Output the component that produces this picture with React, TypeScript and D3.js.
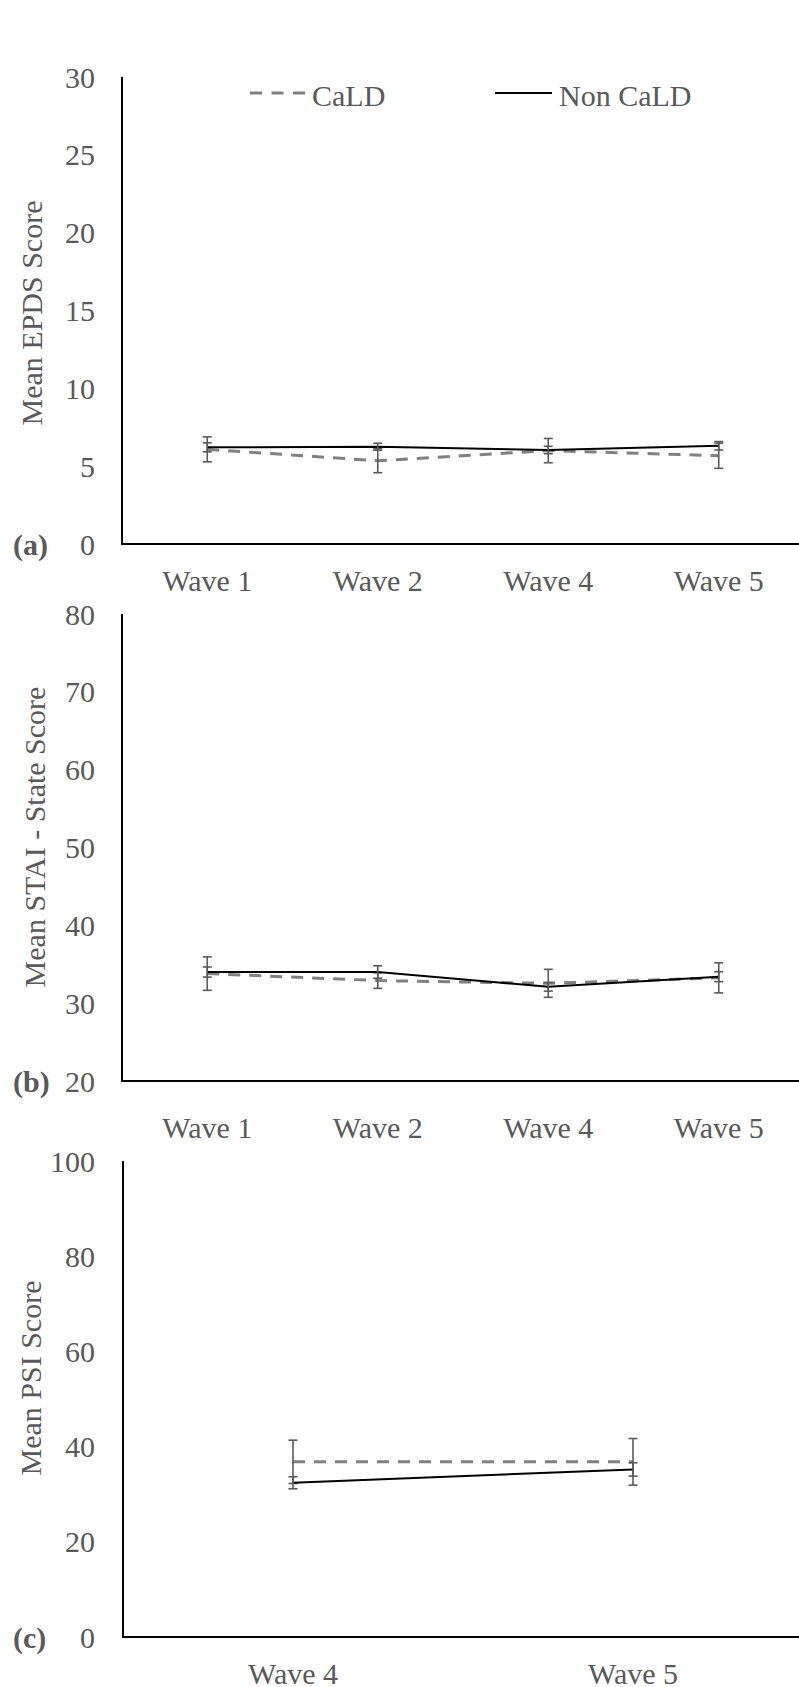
import React, { useEffect, useRef } from 'react';
import * as d3 from 'd3';

// categories
const waves = ['Wave 1', 'Wave 2', 'Wave 4', 'Wave 5'];
const psiWaves = ['Wave 4', 'Wave 5'];

// (a) EPDS
const epdsCald = [6.08, 5.35, 6.0, 5.67];
const epdsCaldErr = [0.8, 0.77, 0.78, 0.81];
const epdsNon = [6.21, 6.25, 6.04, 6.31];
const epdsNonErr = [0.29, 0.22, 0.24, 0.27];
const epdsTicks = [0, 5, 10, 15, 20, 25, 30];

// (b) STAI - State
const staiCald = [33.8, 32.9, 32.55, 33.25];
const staiCaldErr = [2.15, 1.0, 1.8, 1.93];
const staiNon = [34.0, 34.0, 32.1, 33.4];
const staiNonErr = [0.65, 0.8, 0.55, 0.64];
const staiTicks = [20, 30, 40, 50, 60, 70, 80];

// (c) PSI
const psiCald = [36.8, 36.8];
const psiCaldErr = [4.55, 4.9];
const psiNon = [32.4, 35.2];
const psiNonErr = [1.26, 1.4];
const psiTicks = [0, 20, 40, 60, 80, 100];

const FONT = '"Liberation Serif", "Times New Roman", serif';
const GREY_TEXT = '#595959';

const App = () => {
    const svgRef = useRef<SVGSVGElement>(null);

    useEffect(() => {
        const svg = d3.select(svgRef.current);
        svg.selectAll('*').remove();

        const panels = [
            {
                cats: waves, cald: epdsCald, caldErr: epdsCaldErr, non: epdsNon, nonErr: epdsNonErr,
                ticks: epdsTicks, top: 77, bottom: 544, left: 122, right: 804,
                title: 'Mean EPDS Score', titleX: 42, titleY: 313, tag: '(a)', labelY: 580
            },
            {
                cats: waves, cald: staiCald, caldErr: staiCaldErr, non: staiNon, nonErr: staiNonErr,
                ticks: staiTicks, top: 614, bottom: 1081, left: 122, right: 804,
                title: 'Mean STAI - State Score', titleX: 45, titleY: 837, tag: '(b)', labelY: 1127
            },
            {
                cats: psiWaves, cald: psiCald, caldErr: psiCaldErr, non: psiNon, nonErr: psiNonErr,
                ticks: psiTicks, top: 1161, bottom: 1637, left: 123, right: 803,
                title: 'Mean PSI Score', titleX: 41, titleY: 1378, tag: '(c)', labelY: 1673
            }
        ];

        panels.forEach(p => {
            const g = svg.append('g');

            const x = d3.scaleBand()
                .domain(p.cats)
                .range([p.left, p.right])
                .padding(0);
            const cx = (d: string) => (x(d) as number) + x.bandwidth() / 2;

            const y = d3.scaleLinear()
                .domain([p.ticks[0], p.ticks[p.ticks.length - 1]])
                .range([p.bottom, p.top]);

            // tick labels
            g.selectAll('.ytick')
                .data(p.ticks)
                .enter()
                .append('text')
                .attr('x', 95)
                .attr('y', d => y(d))
                .attr('dy', '0.35em')
                .attr('text-anchor', 'end')
                .style('font-family', FONT)
                .style('font-size', '30px')
                .style('fill', GREY_TEXT)
                .text(d => d);

            // axes lines
            g.append('line')
                .attr('x1', p.left).attr('x2', p.left)
                .attr('y1', p.top).attr('y2', p.bottom)
                .attr('stroke', 'black').attr('stroke-width', 2);
            g.append('line')
                .attr('x1', p.left - 1).attr('x2', 799)
                .attr('y1', p.bottom).attr('y2', p.bottom)
                .attr('stroke', 'black').attr('stroke-width', 2);

            // category labels
            g.selectAll('.xlab')
                .data(p.cats)
                .enter()
                .append('text')
                .attr('x', d => cx(d))
                .attr('y', p.labelY)
                .attr('dy', '0.35em')
                .attr('text-anchor', 'middle')
                .style('font-family', FONT)
                .style('font-size', '30px')
                .style('fill', GREY_TEXT)
                .text(d => d);

            // y title
            g.append('text')
                .attr('transform', `translate(${p.titleX},${p.titleY}) rotate(-90)`)
                .attr('text-anchor', 'middle')
                .style('font-family', FONT)
                .style('font-size', '30px')
                .style('fill', GREY_TEXT)
                .text(p.title);

            // panel tag
            g.append('text')
                .attr('x', 13)
                .attr('y', p.bottom)
                .attr('dy', '0.35em')
                .style('font-family', FONT)
                .style('font-size', '30px')
                .style('font-weight', 'bold')
                .style('fill', GREY_TEXT)
                .text(p.tag);

            const line = d3.line<number>()
                .x((d, i) => cx(p.cats[i]))
                .y(d => y(d));

            const drawErr = (vals: number[], errs: number[]) => {
                vals.forEach((v, i) => {
                    const xx = cx(p.cats[i]);
                    const eg = g.append('g')
                        .attr('stroke', '#595959')
                        .attr('stroke-width', 1.6);
                    eg.append('line')
                        .attr('x1', xx).attr('x2', xx)
                        .attr('y1', y(v - errs[i])).attr('y2', y(v + errs[i]));
                    [v - errs[i], v + errs[i]].forEach(e => {
                        eg.append('line')
                            .attr('x1', xx - 4.5).attr('x2', xx + 4.5)
                            .attr('y1', y(e)).attr('y2', y(e));
                    });
                });
            };

            // CaLD series (dashed grey)
            g.append('path')
                .datum(p.cald)
                .attr('d', line)
                .attr('fill', 'none')
                .attr('stroke', '#808080')
                .attr('stroke-width', 3)
                .attr('stroke-dasharray', '12,9');
            drawErr(p.cald, p.caldErr);

            // Non CaLD series (solid black)
            g.append('path')
                .datum(p.non)
                .attr('d', line)
                .attr('fill', 'none')
                .attr('stroke', 'black')
                .attr('stroke-width', 2);
            drawErr(p.non, p.nonErr);
        });

        // Legend
        const legend = svg.append('g');
        legend.append('line')
            .attr('x1', 250).attr('x2', 305)
            .attr('y1', 93).attr('y2', 93)
            .attr('stroke', '#808080')
            .attr('stroke-width', 3)
            .attr('stroke-dasharray', '12,9.5');
        legend.append('text')
            .attr('x', 312).attr('y', 95).attr('dy', '0.35em')
            .style('font-family', FONT).style('font-size', '30px').style('fill', GREY_TEXT)
            .text('CaLD');
        legend.append('line')
            .attr('x1', 495).attr('x2', 552)
            .attr('y1', 93).attr('y2', 93)
            .attr('stroke', 'black')
            .attr('stroke-width', 2);
        legend.append('text')
            .attr('x', 559).attr('y', 95).attr('dy', '0.35em')
            .style('font-family', FONT).style('font-size', '30px').style('fill', GREY_TEXT)
            .text('Non CaLD');
    }, []);

    return (
        <div style={{ position: 'absolute', left: 0, top: 0 }}>
            <svg ref={svgRef} width={799} height={1687} style={{ display: 'block', background: 'white' }}></svg>
        </div>
    );
};

export default App;
